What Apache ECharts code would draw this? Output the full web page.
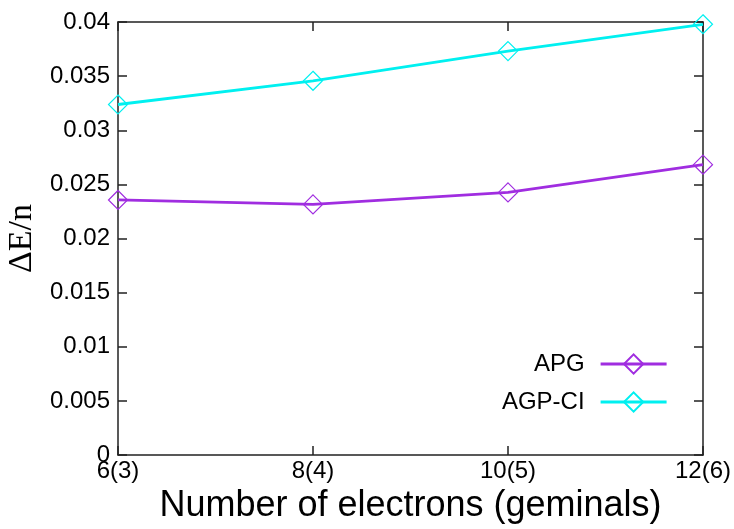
<!DOCTYPE html>
<html>
<head>
<meta charset="utf-8">
<script src="https://cdn.jsdelivr.net/npm/echarts@6/dist/echarts.min.js"></script>
<style>html,body{margin:0;padding:0;background:#fff}#c{width:734px;height:529px}</style>
</head>
<body>
<div id="c"></div>
<script>
const categories = ['6(3)', '8(4)', '10(5)', '12(6)'];
const apg = [0.02356, 0.02315, 0.02426, 0.02682];
const agpci = [0.03238, 0.03457, 0.03731, 0.03979];
const yMin = 0, yMax = 0.04, yStep = 0.005;

const chart = echarts.init(document.getElementById('c'));
const axisCol = '#222';
const tickStyle = {show: true, inside: true, length: 9, lineStyle: {color: axisCol, width: 1.5}};
const mkSeries = (name, data, color) => ({
  name, type: 'line', data, xAxisIndex: 0, yAxisIndex: 0,
  symbol: 'diamond', symbolSize: 19,
  lineStyle: {color, width: 2.8},
  itemStyle: {color: 'rgba(255,255,255,0)', borderColor: color, borderWidth: 1.2},
  z: 3
});
chart.setOption({
  animation: false,
  grid: {left: 118, right: 31, top: 22, bottom: 74, containLabel: false, outerBoundsMode: 'none'},
  legend: {
    orient: 'vertical', right: 66, top: 352, align: 'right', padding: 0,
    itemWidth: 66, itemHeight: 24, itemGap: 14,
    lineStyle: {width: 2.8},
    textStyle: {fontFamily: 'Liberation Sans', fontSize: 24, color: '#000', padding: [0, 11, 0, 0]},
    data: ['APG', 'AGP-CI']
  },
  xAxis: [
    {type: 'category', data: categories, boundaryGap: false, position: 'bottom',
     name: 'Number of electrons (geminals)', nameLocation: 'middle', nameGap: 31,
     nameTextStyle: {fontFamily: 'Liberation Sans', fontSize: 36, color: '#000'},
     axisLine: {lineStyle: {color: axisCol, width: 1.5}},
     axisTick: tickStyle,
     axisLabel: {fontFamily: 'Liberation Sans', fontSize: 24, color: '#000', margin: 4}},
    {type: 'category', data: categories, boundaryGap: false, position: 'top',
     axisLine: {onZero: false, lineStyle: {color: axisCol, width: 1.5}},
     axisTick: tickStyle, axisLabel: {show: false}}
  ],
  yAxis: [
    {type: 'value', min: yMin, max: yMax, interval: yStep, position: 'left',
     name: 'ΔE/n', nameLocation: 'middle', nameGap: 76,
     nameTextStyle: {fontFamily: 'Liberation Serif', fontSize: 34, color: '#000'},
     axisLine: {show: true, lineStyle: {color: axisCol, width: 1.5}},
     axisTick: tickStyle, splitLine: {show: false},
     axisLabel: {fontFamily: 'Liberation Sans', fontSize: 24, color: '#000', margin: 8,
       formatter: v => String(+v.toFixed(3))}},
    {type: 'value', min: yMin, max: yMax, interval: yStep, position: 'right',
     axisLine: {show: true, onZero: false, lineStyle: {color: axisCol, width: 1.5}},
     axisTick: tickStyle, splitLine: {show: false}, axisLabel: {show: false}}
  ],
  series: [
    mkSeries('APG', apg, '#a02de0'),
    mkSeries('AGP-CI', agpci, '#00f0f0')
  ]
});
</script>
</body>
</html>
